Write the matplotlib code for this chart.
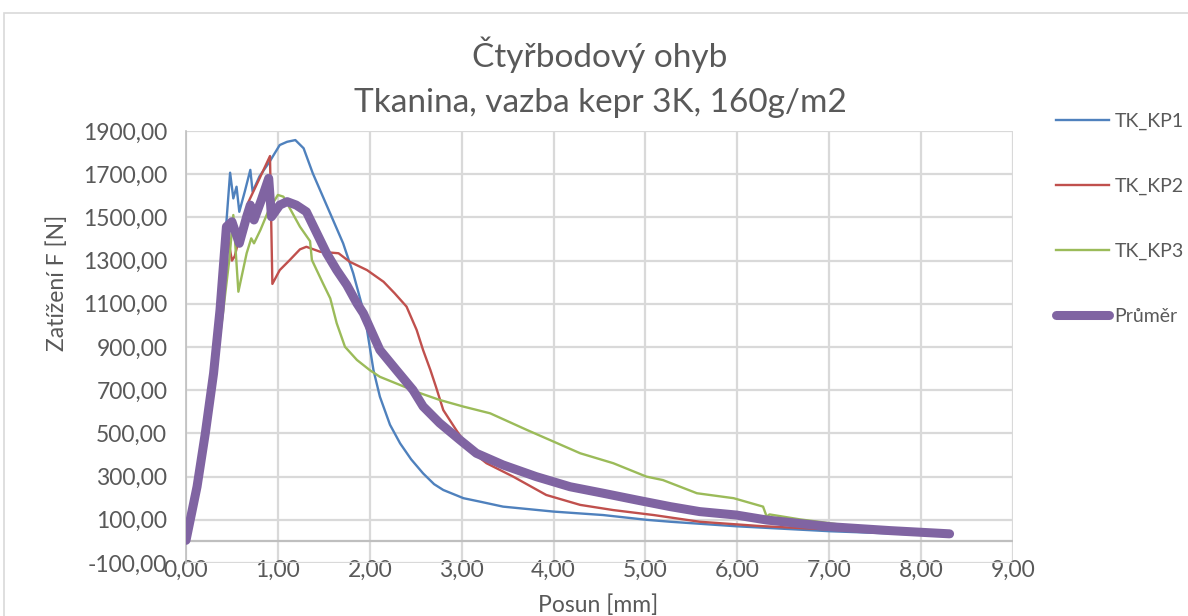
import matplotlib
matplotlib.use("Agg")
import matplotlib.pyplot as plt
from matplotlib.ticker import FuncFormatter
from matplotlib.patches import Rectangle

# Čtyřbodový ohyb – naměřené křivky síla/posun
kp1_x = [0, 0.10, 0.20, 0.30, 0.38, 0.44, 0.48, 0.515, 0.55, 0.58, 0.64, 0.70, 0.725,
         0.80, 0.91, 1.02, 1.10, 1.19, 1.28, 1.38, 1.49, 1.60, 1.71, 1.82, 1.91, 1.97,
         2.04, 2.11, 2.22, 2.33, 2.45, 2.58, 2.70, 2.80, 3.02, 3.20, 3.45, 4.00, 4.54,
         5.01, 5.27, 5.99, 7.01, 7.60, 8.33]
kp1_y = [0, 215, 480, 800, 1150, 1480, 1707, 1588, 1642, 1526, 1620, 1720, 1619,
         1690, 1758, 1835, 1850, 1858, 1820, 1704, 1596, 1488, 1380, 1241, 1100, 979,
         793, 670, 540, 454, 380, 315, 265, 238, 200, 184, 161, 138, 122,
         100, 91, 70, 47, 38, 25]

kp2_x = [0, 0.10, 0.20, 0.30, 0.38, 0.45, 0.50, 0.53, 0.60, 0.68, 0.80, 0.914, 0.94,
         1.02, 1.13, 1.24, 1.31, 1.46, 1.66, 1.78, 1.97, 2.15, 2.27, 2.40, 2.51, 2.58,
         2.66, 2.72, 2.80, 2.94, 3.09, 3.27, 3.56, 3.92, 4.29, 4.65, 5.09, 5.59, 6.25,
         7.00, 7.60, 8.33]
kp2_y = [0, 240, 500, 790, 1090, 1420, 1300, 1320, 1440, 1572, 1680, 1784, 1192,
         1256, 1303, 1352, 1364, 1341, 1334, 1295, 1256, 1202, 1149, 1087, 979, 886,
         793, 716, 608, 516, 423, 362, 300, 215, 169, 145, 122, 91, 71,
         55, 42, 30]

kp3_x = [0, 0.10, 0.20, 0.30, 0.40, 0.47, 0.515, 0.57, 0.66, 0.71, 0.74, 0.81, 0.90,
         1.00, 1.06, 1.13, 1.24, 1.35, 1.37, 1.49, 1.57, 1.64, 1.73, 1.86, 2.00, 2.11,
         2.33, 2.55, 2.76, 3.02, 3.31, 3.71, 4.29, 4.65, 5.01, 5.19, 5.56, 5.96, 6.28,
         6.32, 6.35, 6.68, 7.01, 7.23, 7.70, 8.33]
kp3_y = [0, 200, 450, 720, 1050, 1300, 1511, 1156, 1334, 1403, 1380, 1442, 1534,
         1604, 1596, 1542, 1457, 1390, 1303, 1195, 1125, 1010, 901, 840, 793, 762,
         724, 686, 655, 624, 593, 516, 408, 362, 300, 284, 223, 200, 161,
         114, 125, 102, 84, 71, 52, 35]

avg_x = [0, 0.12, 0.21, 0.30, 0.37, 0.44, 0.50, 0.53, 0.58, 0.66, 0.70, 0.74, 0.82,
         0.90, 0.93, 1.02, 1.10, 1.20, 1.31, 1.42, 1.53, 1.64, 1.75, 1.86, 1.93, 2.11,
         2.29, 2.47, 2.58, 2.76, 2.98, 3.16, 3.45, 3.81, 4.18, 4.54, 4.90, 5.27, 5.59,
         5.99, 6.32, 7.01, 7.66, 8.31]
avg_y = [5, 253, 500, 778, 1071, 1457, 1480, 1442, 1380, 1503, 1557, 1488, 1581,
         1681, 1503, 1557, 1573, 1557, 1526, 1430, 1334, 1256, 1187, 1102, 1056, 886,
         793, 701, 625, 548, 470, 408, 354, 300, 253, 223, 192, 161, 138,
         122, 99, 68, 50, 35]

series_names = ["TK_KP1", "TK_KP2", "TK_KP3", "Průměr"]
colors = ["#4F81BD", "#C0504D", "#9BBB59", "#8064A2"]

x_ticks = [0, 1, 2, 3, 4, 5, 6, 7, 8, 9]
y_ticks = [-100, 100, 300, 500, 700, 900, 1100, 1300, 1500, 1700, 1900]

title_lines = ["Čtyřbodový ohyb", "Tkanina, vazba kepr 3K, 160g/m2"]
x_label = "Posun [mm]"
y_label = "Zatížení F [N]"

plt.rcParams["font.family"] = ["Lato", "DejaVu Sans"]
text_color = "#595959"
grid_color = "#D9D9D9"

W, H = 1188, 616
fig = plt.figure(figsize=(W / 100, H / 100), dpi=100)
fig.patch.set_facecolor("white")

# outer chart frame
fig.add_artist(Rectangle((4 / W, -0.05), 1.2, 1 - 13 / H + 0.05, transform=fig.transFigure,
                         fill=False, edgecolor="#D9D9D9", linewidth=1.2))

ax = fig.add_axes([186 / W, 1 - 563 / H, (1013 - 186) / W, (563 - 131) / H])
ax.set_xlim(0, 9)
ax.set_ylim(-100, 1900)
ax.set_xticks(x_ticks)
ax.set_yticks(y_ticks)

fmt = FuncFormatter(lambda v, p: f"{v:.2f}".replace(".", ","))
ax.xaxis.set_major_formatter(fmt)
ax.yaxis.set_major_formatter(fmt)

for s in ["top", "right", "bottom"]:
    ax.spines[s].set_visible(False)
ax.spines["left"].set_color("#BFBFBF")
ax.spines["left"].set_linewidth(1.2)

ax.grid(True, color=grid_color, linewidth=1.6)
ax.set_axisbelow(True)
ax.axhline(0, color="#BFBFBF", linewidth=1.6, zorder=1)

ax.tick_params(axis="both", length=0, colors=text_color, labelsize=16.5)
ax.tick_params(axis="x", pad=-2)
ax.tick_params(axis="y", pad=13.5)

ax.plot(kp1_x, kp1_y, color=colors[0], lw=1.7, label=series_names[0], zorder=3)
ax.plot(kp2_x, kp2_y, color=colors[1], lw=1.7, label=series_names[1], zorder=3)
ax.plot(kp3_x, kp3_y, color=colors[2], lw=1.7, label=series_names[2], zorder=3)
ax.plot(avg_x, avg_y, color=colors[3], lw=6.5, label=series_names[3], zorder=4,
        solid_capstyle="round", solid_joinstyle="round")

fig.text(598 / W, 1 - 605 / H, x_label, ha="center", va="center",
         fontsize=16.5, color=text_color)
fig.text(57 / W, 1 - 283 / H, y_label, ha="center", va="center", rotation=90,
         fontsize=16.5, color=text_color)

fig.text(600 / W, 1 - 67 / H, title_lines[0], ha="center", va="baseline",
         fontsize=24, color=text_color)
fig.text(600 / W, 1 - 112 / H, title_lines[1], ha="center", va="baseline",
         fontsize=24, color=text_color)

leg = fig.legend(loc="upper left", bbox_to_anchor=(1056 / W, 1 - 113 / H), frameon=False,
                 fontsize=14, labelcolor=text_color, handlelength=2.75, handletextpad=0.25,
                 labelspacing=2.45, borderaxespad=0, borderpad=0)

fig.savefig("out.png", dpi=100, facecolor="white")
